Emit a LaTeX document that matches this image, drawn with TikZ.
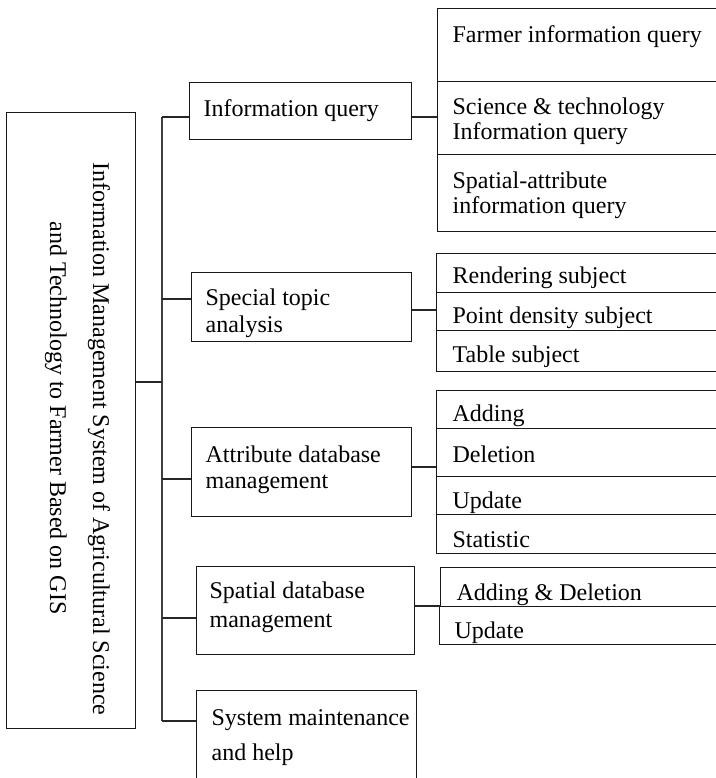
\documentclass[tikz,border=0pt]{standalone}
\usepackage{fontspec}
\setmainfont{Liberation Serif}
\begin{document}
\begin{tikzpicture}[x=1pt,y=-1pt,
  line width=1.2pt,
  box/.style={draw=black!90, rectangle, inner sep=0pt, anchor=north west},
  lbl/.style={inner sep=0pt, anchor=base west, align=left, font=\fontsize{24}{26}\selectfont},
  mainlbl/.style={inner sep=0pt, anchor=base, rotate=-90, font=\fontsize{24}{26}\selectfont},
  conn/.style={draw=black!85, line width=1.2pt},
  trunk/.style={draw=black!75, line width=1.5pt}]
\useasboundingbox (0,0) rectangle (715,778);

% main box
\node[box, minimum width=129, minimum height=616] (main) at (6,112) {};
\node[mainlbl] (mt1) at (93,439) {Information Management System of Agricultural Science};
\node[mainlbl] (mt2) at (50,418) {and Technology to Farmer Based on GIS};

% second level boxes
\node[box, minimum width=222, minimum height=57] (iq) at (189,82) {};
\node[box, minimum width=220, minimum height=69] (st) at (191,272) {};
\node[box, minimum width=220, minimum height=89] (ad) at (191,427) {};
\node[box, minimum width=218, minimum height=88] (sd) at (196,566) {};
\node[box, minimum width=220, minimum height=100] (sm) at (196,690) {};

% (base anchor of a multi-line label = baseline of its last line)
\node[lbl] (iqt) at (203,117) {Information query};
\node[lbl, font=\fontsize{24}{27}\selectfont] (stt) at (205,332) {Special topic\\analysis};
\node[lbl, font=\fontsize{24}{26}\selectfont] (adt) at (205,488) {Attribute database\\management};
\node[lbl, font=\fontsize{24}{29}\selectfont] (sdt) at (209,627) {Spatial database\\management};
\node[lbl, font=\fontsize{24}{35}\selectfont] (smt) at (211,760) {System maintenance\\and help};

% third level cells
\node[box, minimum width=286, minimum height=73] (iq1) at (437,8) {};
\node[box, minimum width=286, minimum height=73] (iq2) at (437,81) {};
\node[box, minimum width=286, minimum height=77] (iq3) at (437,154) {};
\node[box, minimum width=287, minimum height=39] (st1) at (436,253) {};
\node[box, minimum width=287, minimum height=38] (st2) at (436,292) {};
\node[box, minimum width=287, minimum height=41] (st3) at (436,330) {};
\node[box, minimum width=287, minimum height=38] (ad1) at (436,390) {};
\node[box, minimum width=287, minimum height=48] (ad2) at (436,428) {};
\node[box, minimum width=287, minimum height=38] (ad3) at (436,476) {};
\node[box, minimum width=287, minimum height=39] (ad4) at (436,514) {};
\node[box, minimum width=283, minimum height=39] (sd1) at (440,567) {};
\node[box, minimum width=284, minimum height=38] (sd2) at (439,606) {};

\node[lbl] (iq1t) at (452,43) {Farmer information query};
\node[lbl, font=\fontsize{24}{25}\selectfont] (iq2t) at (452,140) {Science \& technology\\Information query};
\node[lbl, font=\fontsize{24}{25}\selectfont] (iq3t) at (452,213) {Spatial-attribute\\information query};
\node[lbl] (st1t) at (452,283) {Rendering subject};
\node[lbl] (st2t) at (452,323) {Point density subject};
\node[lbl] (st3t) at (452,362) {Table subject};
\node[lbl] (ad1t) at (452,421) {Adding};
\node[lbl] (ad2t) at (452,462) {Deletion};
\node[lbl] (ad3t) at (452,508) {Update};
\node[lbl] (ad4t) at (452,547) {Statistic};
\node[lbl] (sd1t) at (456,600) {Adding \& Deletion};
\node[lbl] (sd2t) at (454,638) {Update};

% trunk and connectors
\coordinate (j1) at (162,117);
\coordinate (j2) at (162,299);
\coordinate (jm) at (162,382);
\coordinate (j3) at (162,479);
\coordinate (j4) at (162,618);
\coordinate (j5) at (162,721);
\draw[trunk] (j1) -- (j5);
\draw[conn] (main.east |- jm) -- (jm);
\draw[conn] (j1) -- (j1 -| iq.west);
\draw[conn] (j2) -- (j2 -| st.west);
\draw[conn] (j3) -- (j3 -| ad.west);
\draw[conn] (j4) -- (j4 -| sd.west);
\draw[conn] (j5) -- (j5 -| sm.west);

\coordinate (r1) at (424,117);
\coordinate (r2) at (424,310);
\coordinate (r3) at (424,467);
\coordinate (r4) at (427,606);
\draw[conn] (iq.east |- r1) -- (iq2.west |- r1);
\draw[conn] (st.east |- r2) -- (st2.west |- r2);
\draw[conn] (ad.east |- r3) -- (ad2.west |- r3);
\draw[conn] (sd.east |- r4) -- (sd1.west |- r4);
\end{tikzpicture}
\end{document}
